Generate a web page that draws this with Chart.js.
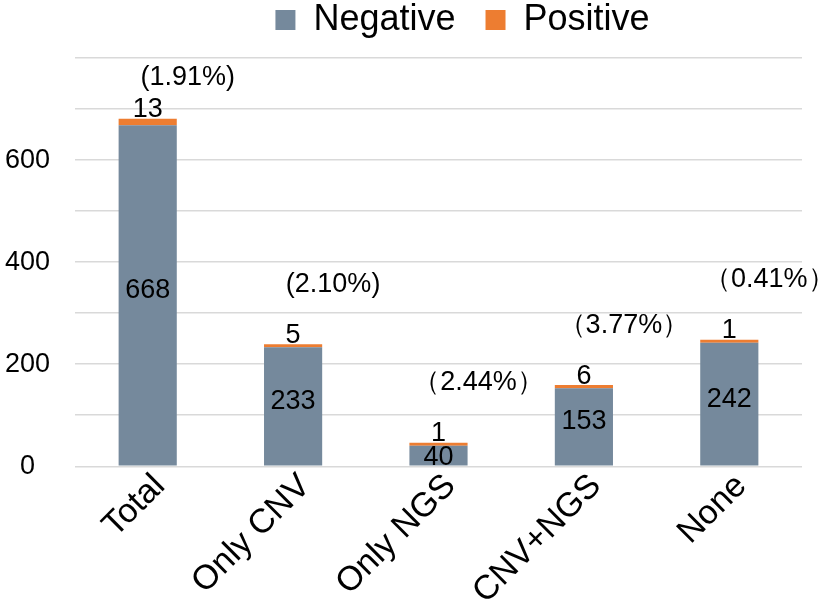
<!DOCTYPE html>
<html lang="en">
<head>
  <meta charset="UTF-8" />
  <title>CNV / NGS results</title>
  <style>
    html, body { margin: 0; padding: 0; background: #fff; }
    .wrap { width: 827px; height: 608px; }
  </style>
  <script src="https://cdn.jsdelivr.net/npm/chart.js"></script>
</head>
<body>
  <div class="wrap"><canvas id="mychart"></canvas></div>
  <script>
    const categories = ['Total', 'Only CNV', 'Only NGS', 'CNV+NGS', 'None'];
    const negative = [668, 233, 40, 153, 242];
    const positive = [13, 5, 1, 6, 1];
    // percent text as printed (some use full-width brackets)
    const pctLabels = ['(1.91%)', '(2.10%)', '（2.44%）', '（3.77%）', '（0.41%）'];
    const yTicks = [0, 200, 400, 600];

    Chart.defaults.font.family = "'Liberation Sans', Arial, sans-serif";
    Chart.defaults.color = '#000';

    // draws the numbers on the bars and the percentages above them
    const barText = {
      id: 'barText',
      afterDatasetsDraw(chart) {
        const ctx = chart.ctx;
        const neg = chart.getDatasetMeta(0).data;
        const pos = chart.getDatasetMeta(1).data;
        ctx.save();
        ctx.fillStyle = '#000';
        ctx.textAlign = 'center';
        ctx.textBaseline = 'middle';
        ctx.font = "27px 'Liberation Sans', Arial, sans-serif";
        neg.forEach((bar, i) => {
          const mid = (bar.y + bar.base) / 2;
          // short bars: the number sits low, spilling past the axis
          ctx.fillText(negative[i], bar.x, bar.base - bar.y < 40 ? mid + 2 : mid - 5);
        });
        pos.forEach((bar, i) => {
          ctx.fillText(positive[i], bar.x, bar.y - 9);
          const y = Math.max(bar.y - 60, chart.chartArea.top + 20);
          ctx.fillText(pctLabels[i], bar.x + 40, y);
        });
        ctx.restore();
      }
    };

    // a bit more room under the legend, and nudge it right like the original
    const legendTweak = {
      id: 'legendTweak',
      afterInit(chart) {
        const lg = chart.legend;
        const fit = lg.fit;
        lg.fit = function () { fit.call(this); this.height += 10; };
        const draw = lg.draw;
        lg.draw = function () {
          this.left += 24; this.right += 24;
          draw.call(this);
          this.left -= 24; this.right -= 24;
        };
      }
    };

    new Chart('mychart', {
      type: 'bar',
      data: {
        labels: categories,
        datasets: [{
          label: 'Negative',
          data: negative,
          backgroundColor: '#75899c',
          categoryPercentage: 1,
          barPercentage: 0.4
        }, {
          label: 'Positive',
          data: positive,
          backgroundColor: '#ed7d31',
          minBarLength: 3,
          categoryPercentage: 1,
          barPercentage: 0.4
        }]
      },
      options: {
        responsive: true,
        maintainAspectRatio: false,
        animation: false,
        layout: { padding: { left: 5, right: 25, top: -28, bottom: 4 } },
        plugins: {
          tooltip: { enabled: false },
          legend: {
            position: 'top',
            fullSize: false,
            labels: {
              boxWidth: 20,
              boxHeight: 20,
              padding: 30,
              font: { size: 36 }
            }
          }
        },
        scales: {
          x: {
            stacked: true,
            grid: { display: false },
            border: { display: false },
            afterFit: s => { s.paddingLeft = 0; s.paddingRight = 0; },
            ticks: {
              minRotation: 45,
              maxRotation: 45,
              padding: -8,
              labelOffset: 12,
              font: { size: 34 }
            }
          },
          y: {
            stacked: true,
            min: 0,
            max: 800,
            grid: { color: '#d9d9d9', lineWidth: 1.5, drawTicks: false },
            border: { display: false },
            afterFit: s => { s.width = 70; },
            ticks: {
              stepSize: 100,
              padding: 25,
              crossAlign: 'center',
              font: { size: 27 },
              callback: v => yTicks.includes(v) ? v : ''
            }
          }
        }
      },
      plugins: [barText, legendTweak]
    });
  </script>
</body>
</html>
